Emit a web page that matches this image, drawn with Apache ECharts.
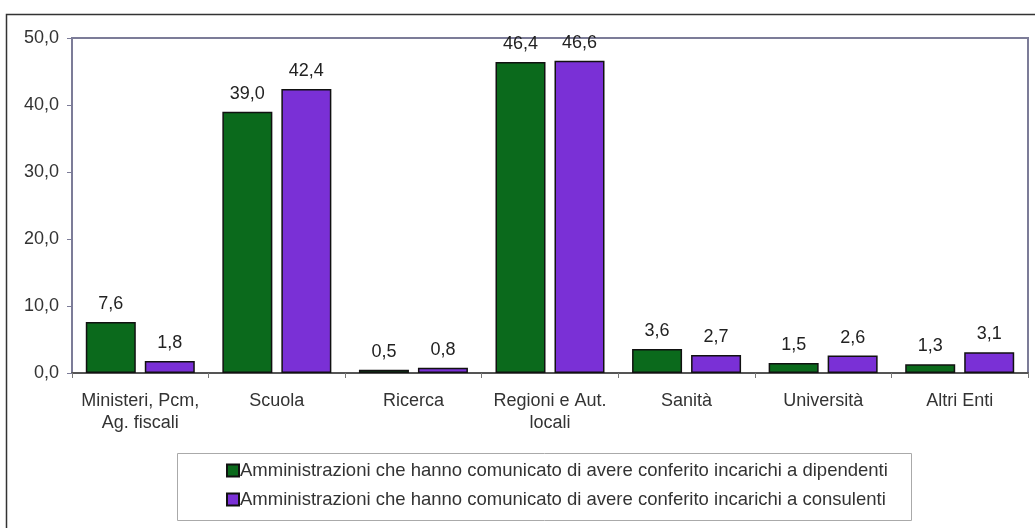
<!DOCTYPE html>
<html><head><meta charset="utf-8">
<script src="https://cdn.jsdelivr.net/npm/echarts@6/dist/echarts.min.js"></script>
<style>html,body{margin:0;padding:0;background:#fff}#c{width:1035px;height:528px}</style>
</head><body><div id="c"></div>
<script>
const categories = ["Ministeri, Pcm,\nAg. fiscali", "Scuola", "Ricerca", "Regioni e Aut.\nlocali", "Sanità", "Università", "Altri Enti"];
const dipendenti = [7.6, 39.0, 0.5, 46.4, 3.6, 1.5, 1.3];
const consulenti = [1.8, 42.4, 0.8, 46.6, 2.7, 2.6, 3.1];
const seriesNames = ["Amministrazioni che hanno comunicato di avere conferito incarichi a dipendenti", "Amministrazioni che hanno comunicato di avere conferito incarichi a consulenti"];
const fmt = v => v.toFixed(1).replace('.', ',');
const font = 'Liberation Sans, Arial, sans-serif';
const chart = echarts.init(document.getElementById('c'));
const label = {show: true, position: 'top', distance: 9, color: '#222', fontSize: 18, fontFamily: font, formatter: p => fmt(p.value)};
chart.setOption({
  animation: false,
  backgroundColor: '#fff',
  grid: {left: 72, right: 7, top: 38, bottom: 155, show: true, borderColor: '#7c7c98', borderWidth: 2},
  xAxis: {type: 'category', data: categories,
    axisLine: {lineStyle: {color: '#555', width: 2}},
    axisTick: {show: true, length: 5, lineStyle: {color: '#777'}},
    axisLabel: {interval: 0, color: '#333', fontSize: 18, fontFamily: font, margin: 17, lineHeight: 22}},
  yAxis: {type: 'value', min: 0, max: 50, interval: 10,
    axisLine: {show: true, lineStyle: {color: '#7c7c98', width: 2}},
    axisTick: {show: true, length: 5, lineStyle: {color: '#7c7c98'}},
    splitLine: {show: false},
    axisLabel: {color: '#333', fontSize: 18, fontFamily: font, margin: 13, formatter: v => fmt(v)}},
  legend: {orient: 'vertical', left: 221, top: 456, itemGap: 10, itemWidth: 12, itemHeight: 12,
    textStyle: {color: '#333', fontSize: 18.5, fontFamily: font, padding: [0,0,0,-4]},
    data: seriesNames.map(n => ({name: n, icon: 'rect'}))},
  graphic: [
    {type: 'rect', shape: {x: 6.5, y: 14.5, width: 1040, height: 520}, style: {fill: 'none', stroke: '#333', lineWidth: 1.5}, z: -1},
    {type: 'rect', shape: {x: 177.5, y: 453.5, width: 734, height: 67}, style: {fill: 'none', stroke: '#aaa', lineWidth: 1}, z: -1}
  ],
  series: [
    {name: seriesNames[0], type: 'bar', data: dipendenti, barWidth: 50, barGap: '18%',
      itemStyle: {color: '#0b6a1c', borderColor: '#111', borderWidth: 1.5}, label: label},
    {name: seriesNames[1], type: 'bar', data: consulenti, barWidth: 50,
      itemStyle: {color: '#7a30d6', borderColor: '#111', borderWidth: 1.5}, label: label}
  ]
});
</script></body></html>
